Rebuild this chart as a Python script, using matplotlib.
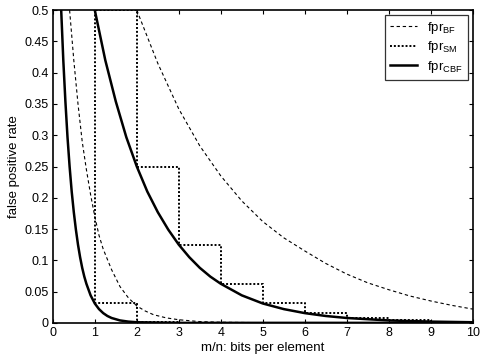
import matplotlib
matplotlib.use("Agg")
import matplotlib.pyplot as plt

plt.rcParams['font.family'] = ['Liberation Sans', 'DejaVu Sans']

# --- data ---
# right-hand family
bf_a_x = [2, 2.5, 3, 3.5, 4, 4.5, 5, 5.5, 6, 6.5, 7, 7.5, 8, 8.5, 9, 9.5, 10]
bf_a_y = [0.5, 0.415, 0.342, 0.283, 0.235, 0.195, 0.162, 0.136, 0.115, 0.095,
          0.078, 0.064, 0.053, 0.043, 0.035, 0.028, 0.022]

sm_a_x = [0, 1, 2, 3, 4, 5, 6, 7, 8, 9, 10]
sm_a_y = [1.0, 0.5, 0.25, 0.125, 0.0625, 0.031, 0.0156, 0.0078, 0.0039, 0.002, 0.001]

cbf_a_x = [1, 1.25, 1.5, 1.75, 2, 2.25, 2.5, 2.75, 3, 3.25, 3.5, 3.75, 4,
           4.5, 5, 5.5, 6, 6.5, 7, 8, 9, 10]
cbf_a_y = [0.5, 0.42, 0.354, 0.297, 0.25, 0.21, 0.177, 0.149, 0.125, 0.105,
           0.088, 0.074, 0.0625, 0.044, 0.031, 0.022, 0.0156, 0.011, 0.0078,
           0.0039, 0.002, 0.001]

# left-hand family
bf_b_x = [0.4, 0.5, 0.6, 0.7, 0.8, 0.9, 1.0, 1.1, 1.2, 1.4, 1.6, 1.8, 2.0,
          2.2, 2.4, 2.7, 3.0, 3.5, 4, 5, 10]
bf_b_y = [0.5, 0.42, 0.35, 0.29, 0.245, 0.205, 0.17, 0.14, 0.118, 0.085,
          0.058, 0.04, 0.027, 0.019, 0.013, 0.008, 0.005, 0.002, 0.001,
          0.0003, 0.0]

sm_b_x = [0, 1, 2, 3, 10]
sm_b_y = [1.0, 0.031, 0.001, 0.0, 0.0]

cbf_b_x = [0.2, 0.25, 0.3, 0.35, 0.4, 0.45, 0.5, 0.55, 0.6, 0.65, 0.7, 0.75,
           0.8, 0.9, 1.0, 1.1, 1.2, 1.3, 1.4, 1.6, 1.8, 2.0, 3.0, 10]
cbf_b_y = [0.5, 0.42, 0.354, 0.297, 0.25, 0.21, 0.177, 0.149, 0.125, 0.105,
           0.088, 0.074, 0.0625, 0.044, 0.031, 0.022, 0.0156, 0.011, 0.0078,
           0.0039, 0.002, 0.001, 0.0, 0.0]

x_ticks = list(range(0, 11))
y_ticks = [0, 0.05, 0.1, 0.15, 0.2, 0.25, 0.3, 0.35, 0.4, 0.45, 0.5]
y_tick_labels = ['0', '0.05', '0.1', '0.15', '0.2', '0.25', '0.3', '0.35',
                 '0.4', '0.45', '0.5']

fig = plt.figure(figsize=(4.8, 3.64), dpi=100)
ax = fig.add_axes([0.110, 0.113, 0.875, 0.859])

dash = dict(color='black', lw=0.8, linestyle=(0, (3, 2.5)))
dot = dict(color='black', lw=1.4, linestyle=(0, (1, 1)), drawstyle='steps-post')
solid = dict(color='black', lw=1.8)

ax.plot(bf_a_x, bf_a_y, label='fpr$_{\\mathregular{BF}}$', **dash)
ax.plot(sm_a_x, sm_a_y, label='fpr$_{\\mathregular{SM}}$', **dot)
ax.plot(cbf_a_x, cbf_a_y, label='fpr$_{\\mathregular{CBF}}$', **solid)
ax.plot(bf_b_x, bf_b_y, **dash)
ax.plot(sm_b_x, sm_b_y, **dot)
ax.plot(cbf_b_x, cbf_b_y, **solid)

ax.set_xlim(0, 10)
ax.set_ylim(0, 0.5)
ax.set_xticks(x_ticks)
ax.set_yticks(y_ticks)
ax.set_yticklabels(y_tick_labels)
ax.tick_params(direction='in', top=True, right=True, length=3, width=0.8,
               labelsize=9, pad=3)
for s in ax.spines.values():
    s.set_linewidth(1.2)

ax.set_xlabel('m/n: bits per element', fontsize=9.5, labelpad=2)
ax.set_ylabel('false positive rate', fontsize=9.5, labelpad=3)

leg = ax.legend(loc='upper right', fontsize=9.5, handlelength=2.0,
                frameon=True, fancybox=False, edgecolor='black',
                borderaxespad=0.35, labelspacing=0.25, handletextpad=0.8,
                borderpad=0.4)
leg.get_frame().set_linewidth(0.9)

fig.savefig('out.png', dpi=100)
